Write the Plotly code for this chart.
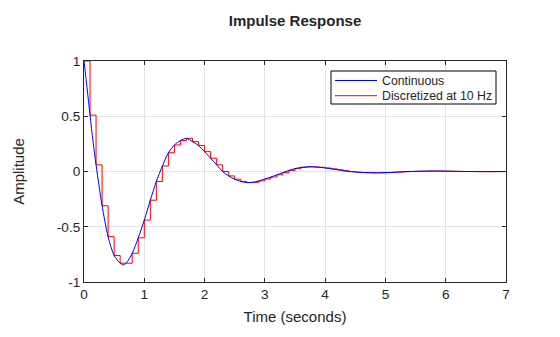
import plotly.graph_objects as go

# Sample times of the discretized system (Ts = 0.1 s)
t_disc = [round(0.1 * k, 1) for k in range(71)]
y_disc = [
    1.00, 0.51, 0.06, -0.31, -0.59, -0.76, -0.83, -0.83, -0.74, -0.60,
    -0.44, -0.26, -0.09, 0.05, 0.17, 0.24, 0.28, 0.30, 0.27, 0.235,
    0.18, 0.12, 0.06, 0.00, -0.04, -0.07, -0.09, -0.10, -0.098, -0.085,
    -0.068, -0.05, -0.03, -0.01, 0.01, 0.026, 0.037, 0.042, 0.042, 0.038,
    0.032, 0.024, 0.016, 0.007, 0.0, -0.005, -0.009, -0.011, -0.012, -0.012,
    -0.01, -0.008, -0.005, -0.002, 0.0, 0.002, 0.003, 0.004, 0.004, 0.004,
    0.003, 0.002, 0.001, 0.0, 0.0, -0.001, -0.001, -0.001, -0.001, -0.001,
    0.0,
]

# Continuous-time response
t_cont = [0.0, 0.05, 0.1, 0.15, 0.2, 0.25, 0.3, 0.4, 0.5, 0.6, 0.65, 0.7, 0.8, 0.9,
          1.0, 1.1, 1.2, 1.3, 1.4, 1.5, 1.6, 1.7, 1.8, 1.9, 2.0, 2.1, 2.2, 2.3,
          2.4, 2.5, 2.6, 2.7, 2.8, 2.9, 3.0, 3.1, 3.2, 3.3, 3.4, 3.5, 3.6, 3.75,
          3.9, 4.0, 4.1, 4.2, 4.3, 4.4, 4.6, 4.85, 5.1, 5.4, 5.8, 6.3, 6.7, 7.0]
y_cont = [1.00, 0.76, 0.51, 0.27, 0.06, -0.13, -0.31, -0.59, -0.76, -0.83, -0.845, -0.83,
          -0.74, -0.60, -0.44, -0.26, -0.09, 0.05, 0.17, 0.24, 0.28, 0.30, 0.27, 0.235,
          0.18, 0.12, 0.06, 0.00, -0.04, -0.07, -0.09, -0.10, -0.098, -0.085, -0.068,
          -0.05, -0.03, -0.01, 0.01, 0.026, 0.037, 0.043, 0.038, 0.032, 0.024, 0.016,
          0.007, 0.0, -0.009, -0.012, -0.008, 0.0, 0.004, 0.0, -0.001, 0.0]

x_ticks = [0, 1, 2, 3, 4, 5, 6, 7]
y_ticks = [-1, -0.5, 0, 0.5, 1]
y_tick_text = ["-1", "-0.5", "0", "0.5", "1"]

AX = "#262626"
FONT = "Liberation Sans, Arial, sans-serif"

# plot area in pixels
L, R, T, B = 84, 506, 61, 282
W, H = 560, 337


def px(xpix):
    return (xpix - L) / (R - L)


def py(ypix):
    return (B - ypix) / (B - T)


fig = go.Figure()
fig.add_trace(go.Scatter(
    x=t_disc, y=y_disc, mode="lines", line=dict(color="#ff0000", width=1, shape="hv"),
    name="Discretized at 10 Hz", showlegend=False))
fig.add_trace(go.Scatter(
    x=t_cont, y=y_cont, mode="lines", line=dict(color="#0000ff", width=1, shape="spline", smoothing=0.8),
    name="Continuous", showlegend=False))

# zero reference line
fig.add_shape(type="line", xref="x", yref="y", x0=0, x1=7, y0=0, y1=0,
              line=dict(color="#7f7f7f", width=1, dash="3px,2px"), layer="below")

# legend box
fig.add_shape(type="rect", xref="paper", yref="paper",
              x0=px(331), x1=px(496), y0=py(104), y1=py(71),
              line=dict(color="#000000", width=1), fillcolor="white", layer="above")
legend_items = [("Continuous", "#0000ff", 80.5), ("Discretized at 10 Hz", "#ff0000", 95.7)]
for label, color, ypix in legend_items:
    fig.add_shape(type="line", xref="paper", yref="paper",
                  x0=px(335), x1=px(377), y0=py(ypix), y1=py(ypix),
                  line=dict(color=color, width=1), layer="above")
    fig.add_annotation(text=label, xref="paper", yref="paper", x=px(380), y=py(ypix),
                       xanchor="left", yanchor="middle", showarrow=False,
                       font=dict(family=FONT, size=12.3, color=AX))

axis_common = dict(
    showline=True, linecolor=AX, linewidth=1, mirror="ticks",
    ticks="inside", ticklen=4, tickcolor=AX,
    showgrid=True, gridcolor="#e3e3e3", gridwidth=1, zeroline=False,
    tickfont=dict(family=FONT, size=13.6, color=AX),
)

fig.update_xaxes(range=[0, 7], tickvals=x_ticks, **axis_common,
                 title=dict(text="Time (seconds)", standoff=10,
                            font=dict(family=FONT, size=15, color=AX)))
fig.update_yaxes(range=[-1, 1], tickvals=y_ticks, ticktext=y_tick_text, **axis_common,
                 title=dict(text="Amplitude", standoff=28,
                            font=dict(family=FONT, size=15, color=AX)))

fig.update_layout(
    width=W, height=H,
    margin=dict(l=L, r=W - R, t=T, b=H - B),
    plot_bgcolor="white", paper_bgcolor="white",
    title=dict(text="<b>Impulse Response</b>", x=(L + R) / 2 / W, xanchor="center",
               y=1 - 21 / H, yanchor="middle",
               font=dict(family=FONT, size=15, color=AX)),
    showlegend=False,
)

fig.write_html("out.html")
